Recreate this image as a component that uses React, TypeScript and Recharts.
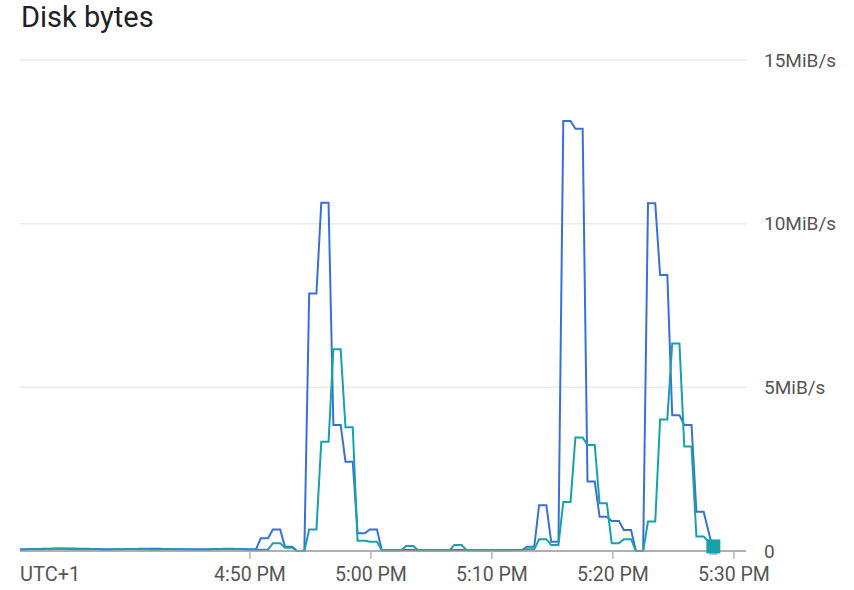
import React from "react";
import { LineChart, Line, XAxis, YAxis, CartesianGrid } from "recharts";

// sample minutes (minutes after 4:30 PM)
const minutes = [
  1, 2, 3, 4, 5, 6, 7, 8, 9, 10, 11, 12, 13, 14, 15, 16, 17, 18, 19, 20,
  21, 22, 23, 24, 25, 26, 27, 28, 29, 30, 31, 32, 33, 34, 35, 36, 37, 38, 39, 40,
  41, 42, 43, 44, 45, 46, 47, 48, 49, 50, 51, 52, 53, 54, 55, 56, 57, 58,
];

// MiB/s
const readBytes = [
  0.05, 0.06, 0.07, 0.08, 0.08, 0.07, 0.06, 0.05, 0.05, 0.06, 0.07, 0.07, 0.06, 0.05, 0.05, 0.05, 0.06, 0.07, 0.06, 0.05,
  0.39, 0.66, 0.13, 0.0, 7.87, 10.64, 3.85, 2.73, 0.54, 0.66, 0.02, 0.02, 0.03, 0.02, 0.02, 0.02, 0.03, 0.02, 0.02, 0.02,
  0.02, 0.03, 0.13, 1.4, 0.28, 13.14, 12.9, 2.12, 1.05, 0.92, 0.64, 0.0, 10.62, 8.43, 4.15, 3.85, 1.2, 0.0,
];

const writeBytes = [
  0.04, 0.05, 0.06, 0.07, 0.06, 0.05, 0.05, 0.04, 0.05, 0.06, 0.05, 0.04, 0.05, 0.05, 0.04, 0.04, 0.05, 0.06, 0.05, 0.04,
  0.04, 0.24, 0.1, 0.0, 0.66, 3.34, 6.16, 3.78, 0.31, 0.28, 0.02, 0.02, 0.15, 0.02, 0.02, 0.02, 0.18, 0.03, 0.02, 0.02,
  0.02, 0.03, 0.05, 0.36, 0.18, 1.5, 3.47, 3.24, 1.46, 0.24, 0.36, 0.0, 0.9, 4.02, 6.34, 3.19, 0.44, 0.14,
];

const xTickValues = [20, 30, 40, 50, 60];
const xTickLabels = ["4:50 PM", "5:00 PM", "5:10 PM", "5:20 PM", "5:30 PM"];
const yTickValues = [0, 5, 10, 15];
const yTickLabels = ["0", "5MiB/s", "10MiB/s", "15MiB/s"];

const BLUE = "#3a6fd8";
const TEAL = "#17a2ab";

// each sample is held briefly (plateau) before moving to the next one
type Pt = { t: number; read: number; write: number; last?: boolean };
const data: Pt[] = [];
minutes.forEach((m, i) => {
  const isLast = i === minutes.length - 1;
  if (isLast) {
    data.push({ t: m + 0.3, read: readBytes[i], write: writeBytes[i], last: true });
  } else {
    data.push({ t: m - 0.1, read: readBytes[i], write: writeBytes[i] });
    data.push({ t: m + 0.5, read: readBytes[i], write: writeBytes[i] });
  }
});

const makeDot = (color: string, size: number) => (props: any) => {
  const { cx, cy, payload, index } = props;
  if (!payload || !payload.last) return <g key={`d-${index}`} />;
  return (
    <rect key={`d-${index}`} x={cx - size / 2} y={cy - size / 2} width={size} height={size} fill={color} />
  );
};

const fontFamily = "Roboto, 'Noto Sans', Arial, sans-serif";

export default function App() {
  return (
    <div style={{ position: "absolute", left: 0, top: 0, width: 854, height: 590, background: "#fff", fontFamily }}>
      <div
        style={{
          position: "absolute",
          left: 21,
          top: 3,
          fontSize: 29,
          lineHeight: "29px",
          color: "#202124",
          whiteSpace: "nowrap",
        }}
      >
        Disk bytes
      </div>
      <div
        style={{
          position: "absolute",
          left: 20,
          top: 564,
          fontSize: 20,
          lineHeight: "20px",
          color: "#555",
          whiteSpace: "nowrap",
        }}
      >
        UTC+1
      </div>
      <LineChart
        width={854}
        height={590}
        data={data}
        margin={{ top: 60, right: 8, bottom: 9, left: 20 }}
      >
        <CartesianGrid vertical={false} stroke="#ebebeb" strokeWidth={1.5} />
        <XAxis
          dataKey="t"
          type="number"
          domain={[1, 61]}
          allowDataOverflow
          ticks={xTickValues}
          interval={0}
          tickFormatter={(v: number) => xTickLabels[xTickValues.indexOf(v)] ?? ""}
          height={30}
          tickSize={8}
          tickMargin={8}
          axisLine={{ stroke: "#9a9a9a", strokeWidth: 1.5 }}
          tickLine={{ stroke: "#b5b5b5", strokeWidth: 1.5 }}
          tick={{ fill: "#555", fontSize: 19.5, fontFamily }}
        />
        <YAxis
          orientation="right"
          type="number"
          domain={[0, 15]}
          ticks={yTickValues}
          interval={0}
          tickFormatter={(v: number) => yTickLabels[yTickValues.indexOf(v)] ?? ""}
          width={100}
          axisLine={false}
          tickLine={false}
          tickSize={0}
          tickMargin={18}
          tick={{ fill: "#555", fontSize: 19, fontFamily, textAnchor: "start" }}
        />
        <Line
          type="linear"
          dataKey="read"
          stroke={BLUE}
          strokeWidth={2}
          dot={makeDot("#a9c0ee", 8)}
          activeDot={false}
          isAnimationActive={false}
        />
        <Line
          type="linear"
          dataKey="write"
          stroke={TEAL}
          strokeWidth={2}
          dot={makeDot(TEAL, 14)}
          activeDot={false}
          isAnimationActive={false}
        />
      </LineChart>
    </div>
  );
}
